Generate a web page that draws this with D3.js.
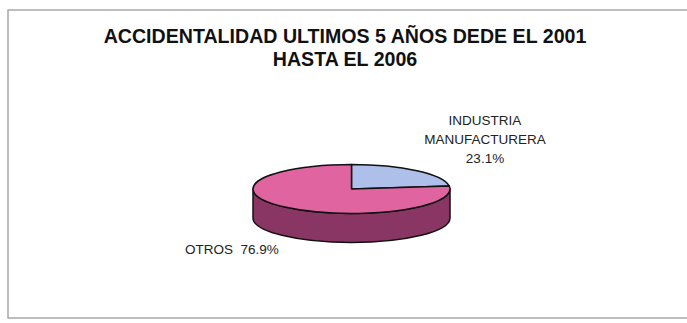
<!DOCTYPE html>
<html><head><meta charset="utf-8">
<script src="https://cdn.jsdelivr.net/npm/d3@7"></script>
<style>body{margin:0;background:#fff;}svg{display:block;}</style>
</head><body>
<svg id="c" width="687" height="323"></svg>
<script>
const categories = ["INDUSTRIA MANUFACTURERA", "OTROS"];
const values = [23.1, 76.9];
const labelLines = [["INDUSTRIA", "MANUFACTURERA", "23.1%"], ["OTROS  76.9%"]];
const titleLines = ["ACCIDENTALIDAD ULTIMOS 5 AÑOS DEDE EL 2001", "HASTA EL 2006"];
const topColors = ["#aebfe9", "#e064a0"];
const sideColors = ["#6f7fa8", "#8a3664"];

const svg = d3.select("#c");
svg.append("rect").attr("x", 8).attr("y", 10).attr("width", 690).attr("height", 308)
  .attr("fill", "#fff").attr("stroke", "#a8a8a8").attr("stroke-width", 1.5);

svg.selectAll("text.title").data(titleLines).enter().append("text")
  .attr("class", "title").attr("x", 345).attr("y", (d, i) => 43 + i * 23)
  .attr("text-anchor", "middle").attr("font-family", "Liberation Sans, Arial, sans-serif")
  .attr("font-weight", "bold").attr("font-size", 19.6).attr("fill", "#111").text(d => d);

const cx = 351.5, cy = 189, rx = 98.5, ry = 24.5, depth = 29;
const pie = d3.pie().sort(null).value(d => d)(values);
const P = (a, dy = 0) => [cx + rx * Math.sin(a), cy - ry * Math.cos(a) + dy];

const g = svg.append("g");
// side walls (front half only)
pie.forEach((s, i) => {
  const s0 = Math.max(s.startAngle, Math.PI / 2), s1 = Math.min(s.endAngle, 3 * Math.PI / 2);
  if (s1 <= s0) return;
  const a = P(s0), b = P(s1), bd = P(s1, depth), ad = P(s0, depth);
  g.append("path")
    .attr("d", `M${a}A${rx},${ry} 0 0 1 ${b}L${bd}A${rx},${ry} 0 0 0 ${ad}Z`)
    .attr("fill", sideColors[i]).attr("stroke", "#111").attr("stroke-width", 1.5)
    .attr("stroke-linejoin", "round");
});
// top faces
pie.forEach((s, i) => {
  const a = P(s.startAngle), b = P(s.endAngle);
  const large = (s.endAngle - s.startAngle) > Math.PI ? 1 : 0;
  g.append("path")
    .attr("d", `M${cx},${cy}L${a}A${rx},${ry} 0 ${large} 1 ${b}Z`)
    .attr("fill", topColors[i]).attr("stroke", "#111").attr("stroke-width", 1.5)
    .attr("stroke-linejoin", "round");
});

// labels
const labelPos = [[485, 125], [232, 254]];
labelLines.forEach((lines, i) => {
  svg.append("g").selectAll("text").data(lines).enter().append("text")
    .attr("x", labelPos[i][0]).attr("y", (d, j) => labelPos[i][1] + j * 19)
    .attr("text-anchor", "middle").attr("font-family", "Liberation Sans, Arial, sans-serif")
    .attr("font-size", 13.5).attr("fill", "#222").style("white-space", "pre").text(d => d);
});
</script>
</body></html>
